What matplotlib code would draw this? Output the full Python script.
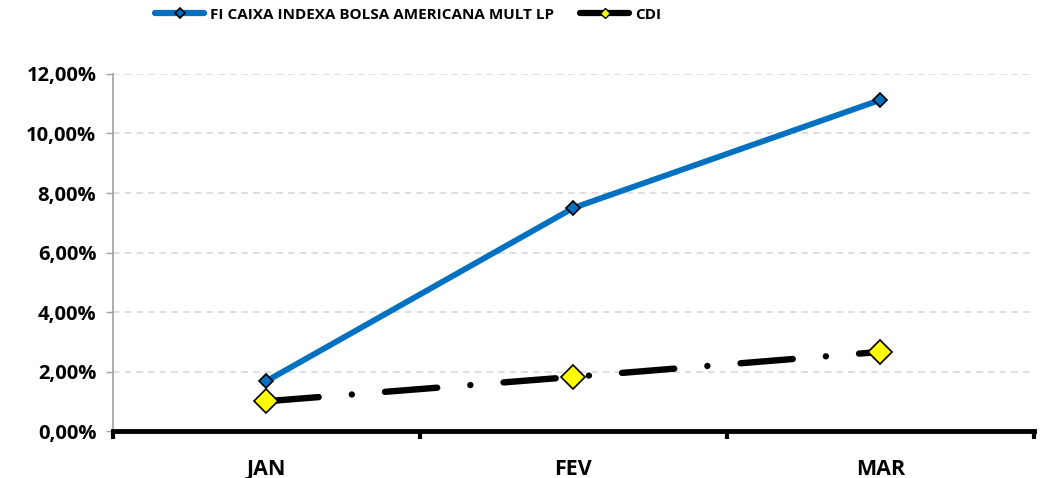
import matplotlib.pyplot as plt
from matplotlib.lines import Line2D
from matplotlib.ticker import FuncFormatter

plt.rcParams['font.family'] = ['Open Sans', 'DejaVu Sans']

months = ['JAN', 'FEV', 'MAR']
fundo = [1.68, 7.50, 11.13]
cdi = [1.00, 1.82, 2.66]
fundo_label = 'FI CAIXA INDEXA BOLSA AMERICANA MULT LP'
cdi_label = 'CDI'

fig = plt.figure(figsize=(10.42, 4.78), dpi=100)
ax = fig.add_axes([0.1084, 0.0983, 0.8839, 0.7469])

x = range(len(months))
ax.plot(x, fundo, color='#0070C0', lw=4.2, marker='D', ms=7,
        mfc='#0070C0', mec='black', mew=1.2,
        solid_capstyle='round', zorder=3)
l2, = ax.plot(x, cdi, color='black', lw=4.6, marker='D', ms=12,
              mfc='#FFFF00', mec='black', mew=1.2,
              dash_capstyle='round', zorder=3)
l2.set_dashes((8.2, 5.2, 0.01, 5.2))

ax.set_xlim(-0.5, 2.5)
ax.set_ylim(0, 12)
ax.set_yticks(range(0, 13, 2))
ax.yaxis.set_major_formatter(FuncFormatter(lambda v, p: f'{v:.2f}%'.replace('.', ',')))
ax.grid(axis='y', color='#d9d9d9', ls=(0, (4, 3)), lw=1.2)
ax.set_axisbelow(True)

# category boundaries get the ticks, labels sit in the middle
ax.set_xticks([-0.5, 0.5, 1.5, 2.5])
ax.set_xticklabels([])
ax.set_xticks(list(x), minor=True)
ax.set_xticklabels(months, minor=True)
ax.tick_params(axis='x', which='major', length=6, width=3, color='black', direction='out')
ax.tick_params(axis='x', which='minor', length=0, pad=20, labelsize=15.5)
ax.tick_params(axis='y', length=5, width=1, color='#a0a0a0', labelsize=14.5, pad=7)
for lab in ax.get_xticklabels(minor=True) + ax.get_yticklabels():
    lab.set_fontweight('bold')

ax.spines['top'].set_visible(False)
ax.spines['right'].set_visible(False)
ax.spines['left'].set_color('#a0a0a0')
ax.spines['left'].set_linewidth(1.2)
ax.spines['bottom'].set_color('black')
ax.spines['bottom'].set_linewidth(3.5)

h1 = Line2D([], [], color='#0070C0', lw=4.5, marker='D', ms=5,
            mfc='#0070C0', mec='black', mew=1.2, solid_capstyle='round')
h2 = Line2D([], [], color='black', lw=4.5, marker='D', ms=5,
            mfc='#FFFF00', mec='black', mew=1.0, solid_capstyle='round')
leg_kw = dict(loc='upper left', frameon=False, handlelength=3.2,
              handletextpad=0.4, borderaxespad=0,
              prop={'weight': 'bold', 'size': 11})
fig.legend([h1], [fundo_label], bbox_to_anchor=(0.143, 0.997), **leg_kw)
fig.legend([h2], [cdi_label], bbox_to_anchor=(0.551, 0.997), **leg_kw)

fig.savefig('out.png', dpi=100)
